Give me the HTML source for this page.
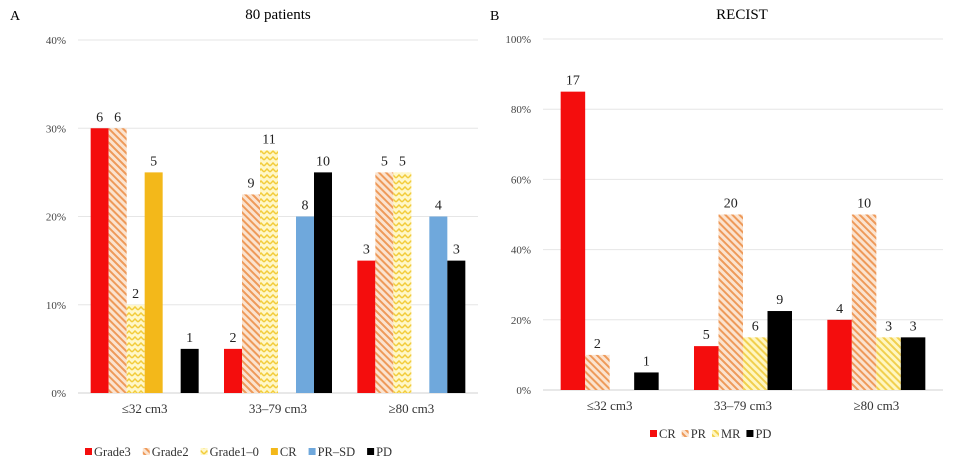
<!DOCTYPE html>
<html><head><meta charset="utf-8"><style>
body{margin:0;background:#fff;width:960px;height:466px;overflow:hidden}
svg{font-family:"Liberation Serif",serif}
</style></head><body>
<svg id="s" width="960" height="466">
<defs>
<pattern id="hatchO" width="5" height="5" patternUnits="userSpaceOnUse" patternTransform="rotate(-45)"><rect width="5" height="5" fill="#fbe3cf"/><rect width="2" height="5" fill="#ee9a5a"/></pattern>
<pattern id="hatchY" width="6" height="6" patternUnits="userSpaceOnUse"><rect width="6" height="6" fill="#fff7c8"/><path d="M0,4 L3,1 L6,4" stroke="#f2cc3a" stroke-width="1.5" fill="none"/></pattern>
<pattern id="hatchY2" width="5" height="5" patternUnits="userSpaceOnUse" patternTransform="rotate(-45)"><rect width="5" height="5" fill="#fff6c0"/><rect width="2" height="5" fill="#f1d04e"/></pattern>
</defs>
<text x="10" y="20" font-size="14">A</text>
<text x="278" y="19" font-size="15" text-anchor="middle">80 patients</text>
<text x="490" y="20" font-size="14">B</text>
<text x="742" y="19" font-size="15" text-anchor="middle">RECIST</text>
</svg>
<script>
const leftCategories=["≤32 cm3","33–79 cm3","≥80 cm3"];
const leftSeriesNames=["Grade3","Grade2","Grade1–0","CR","PR–SD","PD"];
const leftGrade3=[30,5,15];
const leftGrade2=[30,22.5,25];
const leftGrade10=[10,27.5,25];
const leftCR=[25,0,0];
const leftPRSD=[0,20,20];
const leftPD=[5,25,15];
const leftCounts=[[6,2,3],[6,9,5],[2,11,5],[5,null,null],[null,8,4],[1,10,3]];
const leftTicks=[0,10,20,30,40];
const rightCategories=["≤32 cm3","33–79 cm3","≥80 cm3"];
const rightSeriesNames=["CR","PR","MR","PD"];
const rightCR=[85,12.5,20];
const rightPR=[10,50,50];
const rightMR=[0,15,15];
const rightPD=[5,22.5,15];
const rightCounts=[[17,5,4],[2,20,10],[null,6,3],[1,9,3]];
const rightTicks=[0,20,40,60,80,100];

const svg=document.getElementById('s');
const NS='http://www.w3.org/2000/svg';
function mk(t,a){const e=document.createElementNS(NS,t);for(const k in a)e.setAttribute(k,a[k]);svg.appendChild(e);return e;}

function chart(o){
  const y=v=>o.y0-(v/o.ymax)*(o.y0-o.ytop);
  const gw=(o.x1-o.x0)/o.cats.length;
  o.ticks.forEach(t=>{
    const g=mk('line',{x1:o.x0,x2:o.x1,y1:y(t),y2:y(t),stroke:t===0?'#d0d0d0':'#e6e6e6','stroke-width':1});
    
    
    const tl=mk('text',{x:o.x0-12,y:y(t)+4,'font-size':11,'text-anchor':'end',fill:'#444'});
    tl.textContent=t+'%';
    
    
  });
  o.cats.forEach((c,i)=>{
    const cx=o.x0+gw*(i+0.5);
    const t=mk('text',{x:cx,y:o.y0+20,'font-size':13,'text-anchor':'middle',fill:'#333'});
    t.textContent=c;
    
    
    const n=o.series.length;
    o.series.forEach((s,j)=>{
      const v=s[i];
      const bx=cx-n*o.bw/2+j*o.bw;
      if(v>0){
        const r=mk('rect',{x:bx,y:y(v),width:o.bw,height:o.y0-y(v),fill:o.fills[j]});
        
        
      }
      const cnt=o.counts[j][i];
      if(cnt!==null){
        const l=mk('text',{x:bx+o.bw/2,y:y(v)-7,'font-size':14,'text-anchor':'middle',fill:'#222'});
        l.textContent=cnt;
        
        
      }
    });
  });
  let lx=o.lx;
  o.names.forEach((nm,j)=>{
    const sw=mk('rect',{x:lx,y:o.ly-8,width:7,height:7,fill:o.fills[j]});
    
    
    const t=mk('text',{x:lx+9,y:o.ly,'font-size':12.5,fill:'#333'});
    t.textContent=nm;
    
    
    lx+=9+t.getComputedTextLength()+o.lgap;
  });
}
chart({cats:leftCategories,names:leftSeriesNames,series:[leftGrade3,leftGrade2,leftGrade10,leftCR,leftPRSD,leftPD],counts:leftCounts,ticks:leftTicks,
  fills:['#f40d0d','url(#hatchO)','url(#hatchY)','#f3b81a','#6fa8dc','#000'],
  x0:78,x1:478,y0:393,ytop:40,ymax:40,bw:18,lx:85,ly:456,lgap:12});
chart({cats:rightCategories,names:rightSeriesNames,series:[rightCR,rightPR,rightMR,rightPD],counts:rightCounts,ticks:rightTicks,
  fills:['#f40d0d','url(#hatchO)','url(#hatchY2)','#000'],
  x0:543,x1:943,y0:390,ytop:39,ymax:100,bw:24.5,lx:650,ly:438,lgap:6});
</script>
</body></html>
